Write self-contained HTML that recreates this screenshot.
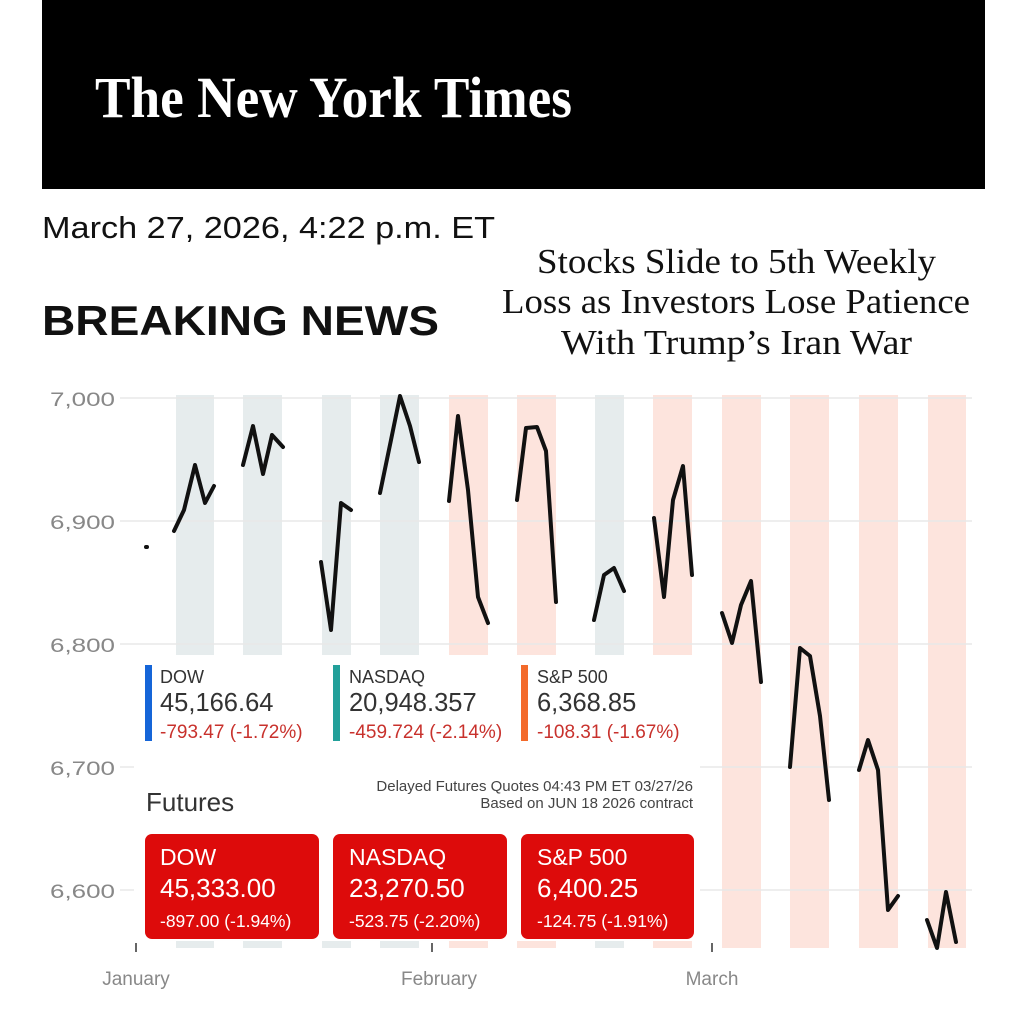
<!DOCTYPE html>
<html><head><meta charset="utf-8"><style>
html,body{margin:0;padding:0;background:#fff;}
body{width:1024px;height:1020px;overflow:hidden;position:relative;font-family:"Liberation Sans",sans-serif;}
</style></head><body>
<svg width="1024" height="1020" viewBox="0 0 1024 1020" xmlns="http://www.w3.org/2000/svg" style="position:absolute;left:0;top:0">
<rect x="42" y="0" width="943" height="189" fill="#000"/>
<text x="95" y="117" fill="#fff" font-family="Liberation Serif,serif" font-weight="bold" font-size="58" textLength="477" lengthAdjust="spacingAndGlyphs">The New York Times</text>
<text x="42" y="238" font-size="31" fill="#111" textLength="453" lengthAdjust="spacingAndGlyphs">March 27, 2026, 4:22 p.m. ET</text>
<text x="42" y="335" font-size="42" font-weight="bold" fill="#111" textLength="397" lengthAdjust="spacingAndGlyphs">BREAKING NEWS</text>
<g font-family="Liberation Serif,serif" font-size="35" fill="#111">
<text x="537" y="273" textLength="399" lengthAdjust="spacingAndGlyphs">Stocks Slide to 5th Weekly</text>
<text x="502" y="313" textLength="468" lengthAdjust="spacingAndGlyphs">Loss as Investors Lose Patience</text>
<text x="561" y="354" textLength="351" lengthAdjust="spacingAndGlyphs">With Trump’s Iran War</text>
</g>
<g fill="#e6eced">
<rect x="176" y="395" width="38" height="553"/><rect x="243" y="395" width="39" height="553"/>
<rect x="322" y="395" width="29" height="553"/><rect x="380" y="395" width="39" height="553"/>
<rect x="595" y="395" width="29" height="553"/>
</g>
<g fill="#fde4dd">
<rect x="449" y="395" width="39" height="553"/><rect x="517" y="395" width="39" height="553"/>
<rect x="653" y="395" width="39" height="553"/><rect x="722" y="395" width="39" height="553"/>
<rect x="790" y="395" width="39" height="553"/><rect x="859" y="395" width="39" height="553"/>
<rect x="928" y="395" width="38" height="553"/>
</g>
<g stroke="#e8e8e8" stroke-width="1.5">
<line x1="120" y1="398" x2="972" y2="398"/><line x1="120" y1="521" x2="972" y2="521"/>
<line x1="120" y1="644" x2="972" y2="644"/><line x1="120" y1="767" x2="972" y2="767"/>
<line x1="120" y1="890" x2="972" y2="890"/>
</g>
<g fill="#888" font-size="19" text-anchor="end">
<text x="115" y="406" textLength="65" lengthAdjust="spacingAndGlyphs">7,000</text><text x="115" y="529" textLength="65" lengthAdjust="spacingAndGlyphs">6,900</text><text x="115" y="652" textLength="65" lengthAdjust="spacingAndGlyphs">6,800</text>
<text x="115" y="775" textLength="65" lengthAdjust="spacingAndGlyphs">6,700</text><text x="115" y="898" textLength="65" lengthAdjust="spacingAndGlyphs">6,600</text>
</g>
<g stroke="#666" stroke-width="2"><line x1="136" y1="943" x2="136" y2="952"/><line x1="432" y1="943" x2="432" y2="952"/><line x1="712" y1="943" x2="712" y2="952"/></g>
<g fill="#888" font-size="19" text-anchor="middle">
<text x="136" y="985">January</text><text x="439" y="985">February</text><text x="712" y="985">March</text>
</g>
<g fill="none" stroke="#111" stroke-width="4" stroke-linejoin="round" stroke-linecap="round">
<polyline points="146,547 147,547"/>
<polyline points="174,531 184,510 195,465 205,503 214,486"/>
<polyline points="243,465 253,426 263,474 272,435 283,447"/>
<polyline points="321,562 331,630 341,503 351,510"/>
<polyline points="380,493 391,440 400,396 410,426 419,462"/>
<polyline points="449,501 458,416 468,490 478,597 488,623"/>
<polyline points="517,500 526,428 537,427 546,451 556,602"/>
<polyline points="594,620 604,575 614,568 624,591"/>
<polyline points="654,518 664,597 673,500 683,466 692,575"/>
<polyline points="722,613 732,643 741,605 751,581 761,682"/>
<polyline points="790,767 800,648 810,656 820,716 829,800"/>
<polyline points="859,770 868,740 878,770 888,910 898,896"/>
<polyline points="927,920 937,948 946,892 956,942"/>
</g>
<rect x="134" y="655" width="566" height="286" fill="#fff"/>
<rect x="145" y="665" width="7" height="76" fill="#1565d8"/>
<rect x="333" y="665" width="7" height="76" fill="#22a09a"/>
<rect x="521" y="665" width="7" height="76" fill="#f36a2a"/>
<g font-size="18" fill="#333"><text x="160" y="683">DOW</text><text x="349" y="683">NASDAQ</text><text x="537" y="683">S&amp;P 500</text></g>
<g font-size="25.5" fill="#333"><text x="160" y="711">45,166.64</text><text x="349" y="711">20,948.357</text><text x="537" y="711">6,368.85</text></g>
<g font-size="19" fill="#c8312c"><text x="160" y="738">-793.47 (-1.72%)</text><text x="349" y="738">-459.724 (-2.14%)</text><text x="537" y="738">-108.31 (-1.67%)</text></g>
<text x="146" y="811" font-size="26" fill="#333">Futures</text>
<g font-size="15" fill="#444" text-anchor="end"><text x="693" y="791">Delayed Futures Quotes 04:43 PM ET 03/27/26</text><text x="693" y="808">Based on JUN 18 2026 contract</text></g>
<g fill="#dd0b0b"><rect x="145" y="834" width="174" height="105" rx="7"/><rect x="333" y="834" width="174" height="105" rx="7"/><rect x="521" y="834" width="173" height="105" rx="7"/></g>
<g fill="#fff"><g font-size="23"><text x="160" y="865">DOW</text><text x="349" y="865">NASDAQ</text><text x="537" y="865">S&amp;P 500</text></g>
<g font-size="26"><text x="160" y="897">45,333.00</text><text x="349" y="897">23,270.50</text><text x="537" y="897">6,400.25</text></g>
<g font-size="17.5"><text x="160" y="927">-897.00 (-1.94%)</text><text x="349" y="927">-523.75 (-2.20%)</text><text x="537" y="927">-124.75 (-1.91%)</text></g></g>
</svg>
</body></html>
